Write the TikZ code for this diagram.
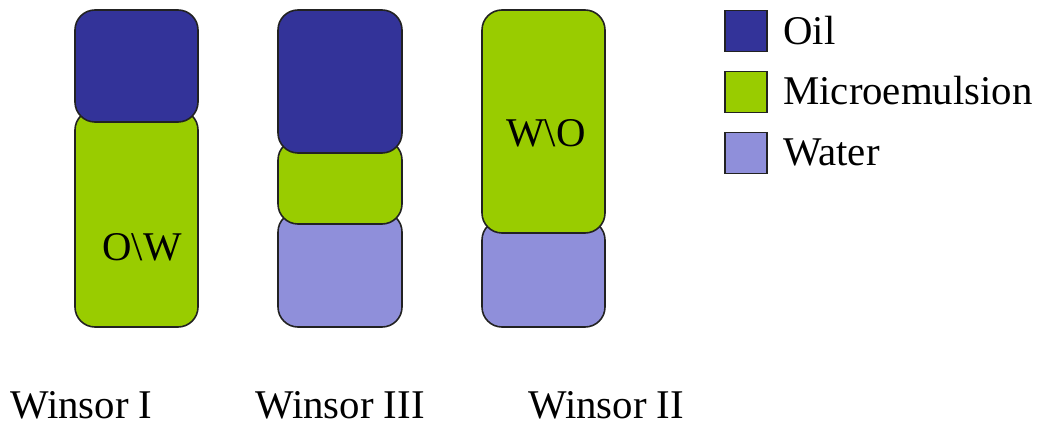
\documentclass[tikz,border=0pt]{standalone}
\usepackage{fontspec}
\setmainfont{Liberation Serif}
\newfontfamily\tms{LiberationSerif-Regular.ttf}
\definecolor{oilc}{HTML}{333399}
\definecolor{microc}{HTML}{99CC00}
\definecolor{waterc}{HTML}{8F8FDA}
\definecolor{edgec}{HTML}{222222}
\tikzset{
  layer/.style={draw=edgec, line width=1.2pt, rounded corners=15pt},
  legbox/.style={draw=edgec, line width=1.2pt, minimum width=31.5pt, minimum height=30.75pt, inner sep=0pt},
  lbl/.style={font=\tms\fontsize{30.6pt}{36pt}\selectfont, inner sep=0pt, anchor=base west},
}
\begin{document}
\begin{tikzpicture}[x=0.75pt,y=-0.75pt]
\useasboundingbox (0,0) rectangle (1044,427);
% Tube 1 (Winsor I)
\path[layer, fill=microc] (75,110) rectangle (198,327);
\path[layer, fill=oilc] (75,10) rectangle (198,122);
\node[lbl, anchor=center] (ow) at (142,247) {O\textbackslash W};
% Tube 2 (Winsor III)
\path[layer, fill=waterc] (278,212) rectangle (402,327);
\path[layer, fill=microc] (278,140) rectangle (402,224);
\path[layer, fill=oilc] (278,10) rectangle (402,153);
% Tube 3 (Winsor II)
\path[layer, fill=waterc] (482,220) rectangle (605,327);
\path[layer, fill=microc] (482,10) rectangle (605,233);
\node[lbl, anchor=center] (wo) at (546,133) {W\textbackslash O};
% Legend
\node[legbox, fill=oilc] (lo) at (746,31) {};
\node[legbox, fill=microc] (lm) at (746,92) {};
\node[legbox, fill=waterc] (lw) at (746,153) {};
\node[lbl] (to) at (783,45) {Oil};
\node[lbl] (tm) at (783,105) {Microemulsion};
\node[lbl] (tw) at (783,166) {Water};
% Bottom labels
\node[lbl] (w1) at (10,418) {Winsor I};
\node[lbl] (w3) at (255,418) {Winsor III};
\node[lbl] (w2) at (528,418) {Winsor II};
\end{tikzpicture}
\end{document}
